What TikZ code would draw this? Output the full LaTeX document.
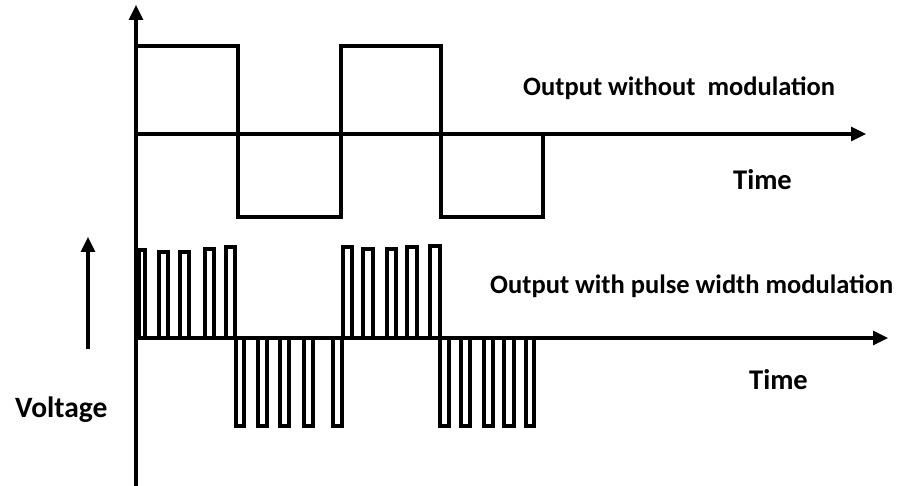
\documentclass[tikz,border=0pt]{standalone}
\usepackage{fontspec}
\setmainfont{Carlito}
\usetikzlibrary{arrows.meta}
\begin{document}
\begin{tikzpicture}[x=1pt,y=-1pt,
  wave/.style={line width=3.2pt,line join=miter},
  axis/.style={line width=3.2pt,-{Triangle[length=15pt,width=14pt]}},
  lbl/.style={font=\bfseries\fontsize{26.5}{30}\selectfont,inner sep=0pt},
  biglbl/.style={font=\bfseries\fontsize{28.5}{32}\selectfont,inner sep=0pt},
  pulse/.style={line width=3.2pt}]
\useasboundingbox (0,0) rectangle (897,486);
% axes
\coordinate (o) at (136,486);
\coordinate (ytip) at (136,5);
\coordinate (t1s) at (136,134);
\coordinate (t1e) at (866,134);
\coordinate (t2s) at (136,338);
\coordinate (t2e) at (888,338);
\coordinate (vs) at (88,349);
\coordinate (ve) at (88,237);
\draw[axis] (o) -- (ytip);
\draw[axis] (t1s) -- (t1e);
\draw[axis] (t2s) -- (t2e);
\draw[axis] (vs) -- (ve);
% square wave
\draw[wave] (136,46) -- (238,46) -- (238,217) -- (341,217) -- (341,46) -- (441,46) -- (441,217) -- (543,217) -- (543,134);
% PWM pulses
\foreach \a/\b/\t in {139/145/250,159/168/252,180/189/252,205/214/249,226/235/247,
                      343/352/247,363/373/249,387/396/249,407/417/247,430/440/246}
  \draw[pulse] (\a,338) rectangle (\b,\t);
\foreach \a/\b in {236/244,258/267,280/289,304/313,333/342,
                   440/449,461/470,484/493,504/514,526/534}
  \draw[pulse] (\a,338) rectangle (\b,426);
% labels
\node[lbl,anchor=west] (l1) at (523,88) {Output without\ \ modulation};
\node[biglbl,anchor=west] (l2) at (733,180) {Time};
\node[lbl,anchor=west] (l3) at (490,286) {Output with pulse width modulation};
\node[biglbl,anchor=west] (l4) at (749,380) {Time};
\node[biglbl,anchor=west,font=\bfseries\fontsize{29.5}{33}\selectfont] (l5) at (15,410) {Voltage};
\end{tikzpicture}
\end{document}
